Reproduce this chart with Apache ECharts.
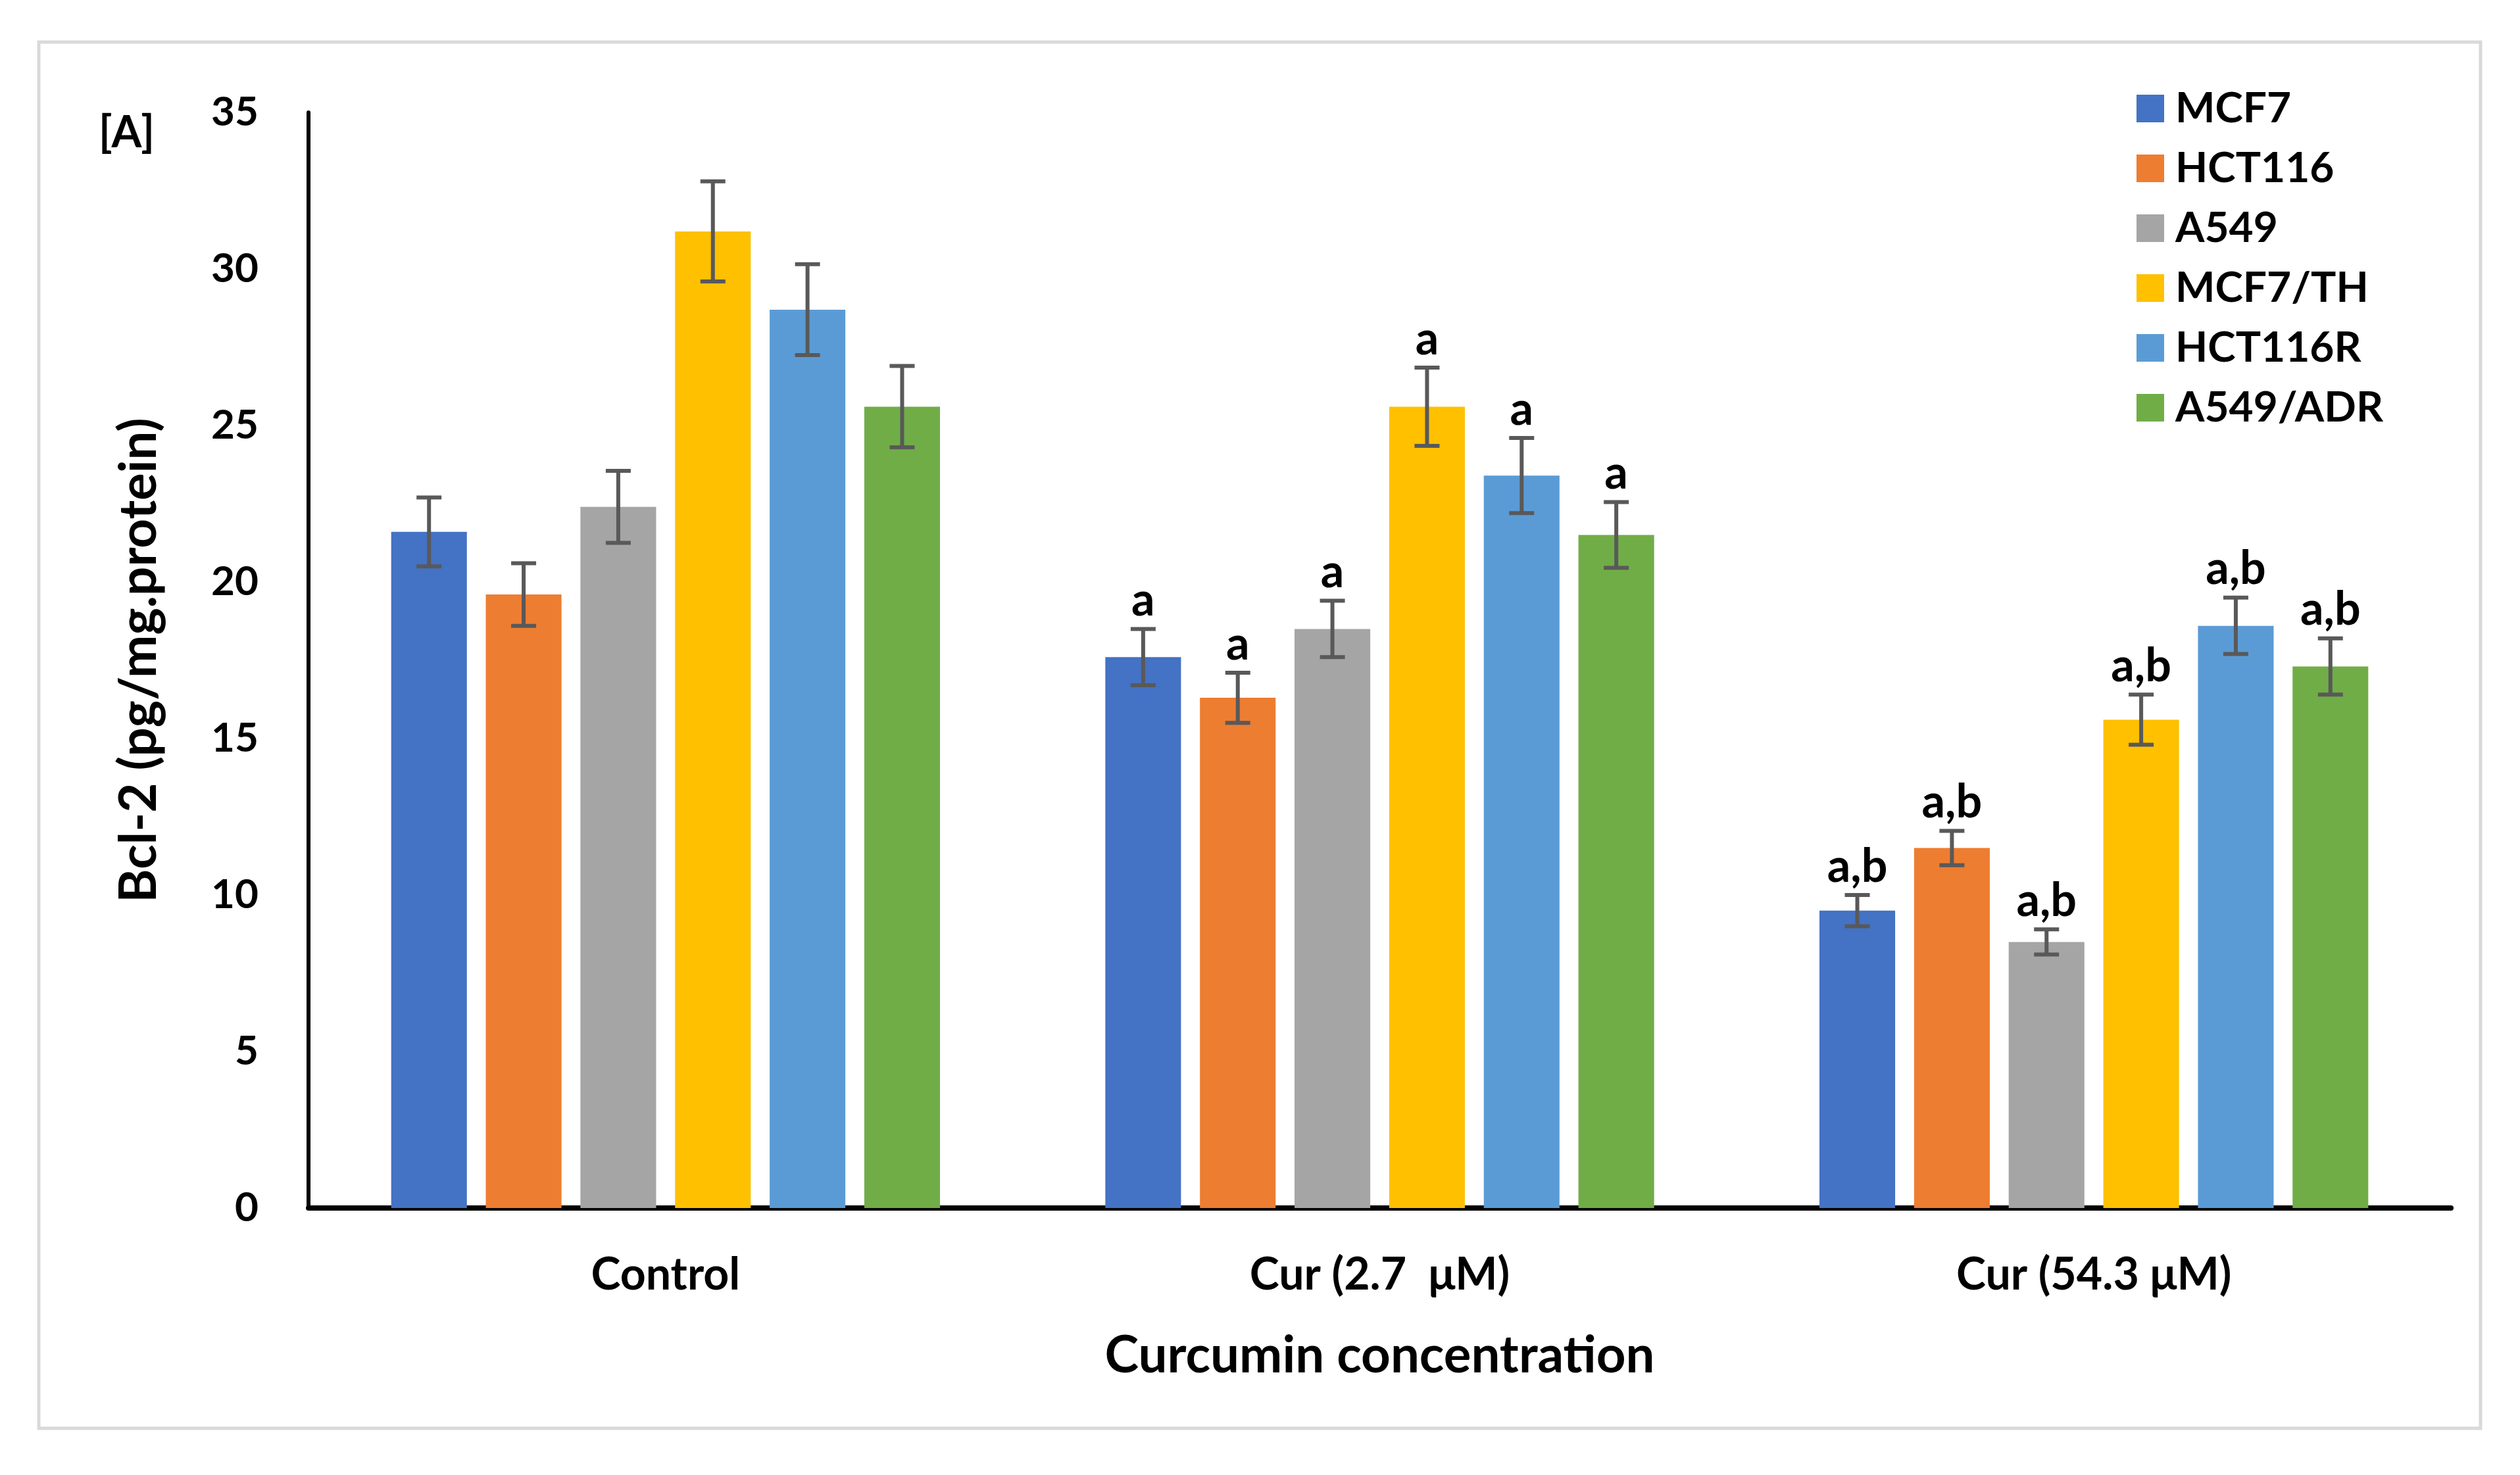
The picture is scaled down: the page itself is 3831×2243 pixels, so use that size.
<!DOCTYPE html>
<html>
<head>
<meta charset="utf-8">
<script src="https://cdn.jsdelivr.net/npm/echarts@6/dist/echarts.min.js"></script>
<style>
html,body{margin:0;padding:0;background:#fff;}
#chart{width:3831px;height:2243px;}
</style>
</head>
<body>
<div id="chart"></div>
<script>
const categories = ['Control', 'Cur (2.7  μM)', 'Cur (54.3 μM)'];
const seriesNames = ['MCF7', 'HCT116', 'A549', 'MCF7/TH', 'HCT116R', 'A549/ADR'];
const colors = ['#4472C4', '#ED7D31', '#A5A5A5', '#FFC000', '#5B9BD5', '#70AD47'];

const mcf7 = [21.6, 17.6, 9.5];
const hct116 = [19.6, 16.3, 11.5];
const a549 = [22.4, 18.5, 8.5];
const mcf7th = [31.2, 25.6, 15.6];
const hct116r = [28.7, 23.4, 18.6];
const a549adr = [25.6, 21.5, 17.3];

const mcf7Err = [1.1, 0.9, 0.5];
const hct116Err = [1.0, 0.8, 0.55];
const a549Err = [1.15, 0.9, 0.4];
const mcf7thErr = [1.6, 1.25, 0.8];
const hct116rErr = [1.45, 1.2, 0.9];
const a549adrErr = [1.3, 1.05, 0.9];

const sigLabels = ['', 'a', 'a,b'];
const yTicks = [0, 5, 10, 15, 20, 25, 30, 35];

const values = [mcf7, hct116, a549, mcf7th, hct116r, a549adr];
const errors = [mcf7Err, hct116Err, a549Err, mcf7thErr, hct116rErr, a549adrErr];

const FONT = 'Lato';
const BAR_W = 0.106;
const GAP = 0.25;

const errData = [];
const errLabels = [];
for (let s = 0; s < values.length; s++) {
  for (let c = 0; c < categories.length; c++) {
    errData.push([c, s, values[s][c], errors[s][c]]);
    errLabels.push(sigLabels[c]);
  }
}

const chart = echarts.init(document.getElementById('chart'));

const barSeries = seriesNames.map((name, i) => ({
  name: name,
  type: 'bar',
  data: values[i],
  barWidth: (BAR_W * 100) + '%',
  barGap: (GAP * 100) + '%',
  itemStyle: { color: colors[i] },
  z: 2
}));

const errSeries = {
  type: 'custom',
  name: 'err',
  data: errData,
  encode: { x: 0, y: 2 },
  z: 5,
  silent: true,
  renderItem: function (params, api) {
    const cat = api.value(0);
    const si = api.value(1);
    const val = api.value(2);
    const err = api.value(3);
    const band = api.size([1, 0])[0];
    const w = band * BAR_W;
    const n = seriesNames.length;
    const total = n * w + (n - 1) * GAP * w;
    const cx = api.coord([cat, 0])[0] - total / 2 + si * w * (1 + GAP) + w / 2;
    const yTop = api.coord([cat, val + err])[1];
    const yBot = api.coord([cat, val - err])[1];
    const cap = 19;
    const st = { stroke: '#595959', lineWidth: 6 };
    const children = [
      { type: 'line', shape: { x1: cx, y1: yTop, x2: cx, y2: yBot }, style: st },
      { type: 'line', shape: { x1: cx - cap, y1: yTop, x2: cx + cap, y2: yTop }, style: st },
      { type: 'line', shape: { x1: cx - cap, y1: yBot, x2: cx + cap, y2: yBot }, style: st }
    ];
    const lab = errLabels[params.dataIndex];
    if (lab) {
      children.push({
        type: 'text',
        style: {
          text: lab, x: cx, y: yTop - 8,
          align: 'center', verticalAlign: 'bottom',
          fill: '#000', font: 'bold 70px ' + FONT
        }
      });
    }
    return { type: 'group', children: children };
  }
};

chart.setOption({
  animation: false,
  backgroundColor: '#fff',
  grid: { left: 469, right: 105, top: 171, bottom: 406, containLabel: false },
  legend: {
    orient: 'vertical',
    left: 3243,
    top: 128,
    itemWidth: 42,
    itemHeight: 42,
    itemGap: 27,
    icon: 'rect',
    data: seriesNames,
    textStyle: { color: '#000', fontFamily: FONT, fontWeight: 'bold', fontSize: 64, padding: [0, 0, 0, 12] }
  },
  xAxis: {
    type: 'category',
    data: categories,
    name: 'Curcumin concentration',
    nameLocation: 'middle',
    nameGap: 186,
    nameTextStyle: { color: '#000', fontFamily: FONT, fontWeight: 'bold', fontSize: 78 },
    axisLine: { lineStyle: { color: '#000', width: 8 } },
    axisTick: { show: false },
    axisLabel: { color: '#000', fontFamily: FONT, fontWeight: 'bold', fontSize: 68, margin: 68 },
    splitLine: { show: false }
  },
  yAxis: {
    type: 'value',
    min: 0, max: 35, interval: 5,
    name: 'Bcl-2 (pg/mg.protein)',
    nameLocation: 'middle',
    nameGap: 218,
    nameRotate: 90,
    nameTextStyle: { color: '#000', fontFamily: FONT, fontWeight: 'bold', fontSize: 78 },
    axisLine: { show: true, lineStyle: { color: '#000', width: 6 } },
    axisTick: { show: false },
    axisLabel: {
      color: '#000', fontFamily: FONT, fontWeight: 'bold', fontSize: 62, margin: 76,
      formatter: function (v) { return yTicks.indexOf(v) >= 0 ? String(v) : ''; }
    },
    splitLine: { show: false }
  },
  graphic: [
    {
      type: 'rect',
      shape: { x: 59, y: 64, width: 3712, height: 2108 },
      style: { fill: 'none', stroke: '#d9d9d9', lineWidth: 5 },
      silent: true, z: -1
    },
    {
      type: 'text',
      left: 150, top: 170,
      style: { text: '[A]', fill: '#000', font: 'bold 66px ' + FONT }
    }
  ],
  series: barSeries.concat([errSeries])
});
</script>
</body>
</html>
